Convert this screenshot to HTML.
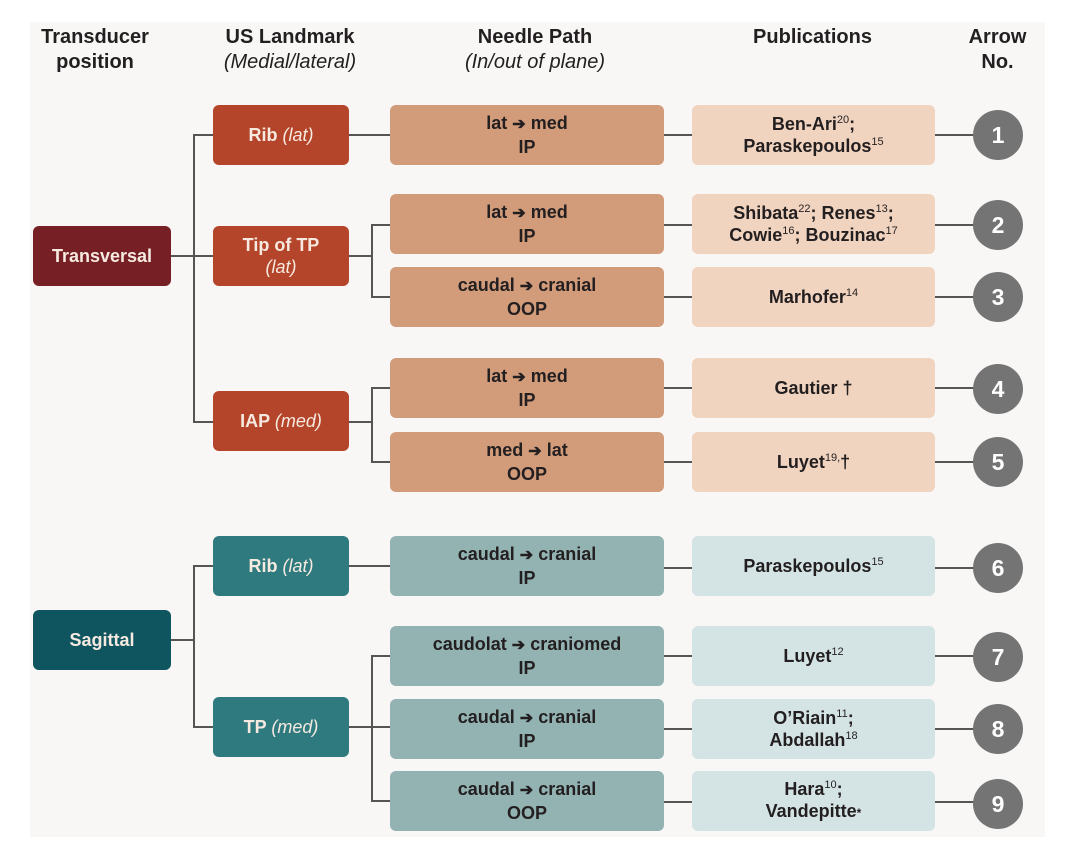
<!DOCTYPE html>
<html><head><meta charset="utf-8"><style>
body{margin:0;width:1080px;height:845px;background:#fff;position:relative;overflow:hidden;font-family:"Liberation Sans",sans-serif;}
.bg{position:absolute;left:30px;top:22px;width:1015px;height:815px;background:#f8f7f6;}
.h{position:absolute;text-align:center;font-weight:bold;font-size:20px;color:#231f20;line-height:25px;}
.h i{font-weight:normal;}
.b{position:absolute;display:flex;align-items:center;justify-content:center;text-align:center;border-radius:6px;font-size:18px;line-height:22px;color:#231f20;font-weight:bold;}
.b>div{width:100%;}
.w{color:#f6e9e0;}
.b i{font-weight:normal;}
sup{font-size:11px;vertical-align:7px;line-height:0;font-weight:normal;}
.c{position:absolute;width:50px;height:50px;border-radius:50%;background:#747474;color:#fff;font-weight:bold;font-size:23px;display:flex;align-items:center;justify-content:center;}
.l{position:absolute;background:#555;}
.ar{font-size:16px;}
</style></head><body>
<div class="bg"></div>
<div class="h" style="left:20px;top:25px;width:150px">Transducer<br>position</div>
<div class="h" style="left:200px;top:25px;width:180px">US Landmark<br><i>(Medial/lateral)</i></div>
<div class="h" style="left:420px;top:25px;width:230px">Needle Path<br><i>(In/out of plane)</i></div>
<div class="h" style="left:700px;top:25px;width:225px">Publications</div>
<div class="h" style="left:950px;top:25px;width:95px">Arrow<br>No.</div>

<div class="l" style="left:171px;top:255px;width:42px;height:2px"></div>
<div class="l" style="left:193px;top:134px;width:2px;height:289px"></div>
<div class="l" style="left:193px;top:134px;width:20px;height:2px"></div>
<div class="l" style="left:193px;top:421px;width:20px;height:2px"></div>
<div class="l" style="left:349px;top:134px;width:41px;height:2px"></div>
<div class="l" style="left:349px;top:255px;width:23px;height:2px"></div>
<div class="l" style="left:371px;top:224px;width:2px;height:74px"></div>
<div class="l" style="left:371px;top:224px;width:19px;height:2px"></div>
<div class="l" style="left:371px;top:296px;width:19px;height:2px"></div>
<div class="l" style="left:349px;top:421px;width:23px;height:2px"></div>
<div class="l" style="left:371px;top:387px;width:2px;height:76px"></div>
<div class="l" style="left:371px;top:387px;width:19px;height:2px"></div>
<div class="l" style="left:371px;top:461px;width:19px;height:2px"></div>

<div class="l" style="left:171px;top:639px;width:22px;height:2px"></div>
<div class="l" style="left:193px;top:565px;width:2px;height:163px"></div>
<div class="l" style="left:193px;top:565px;width:20px;height:2px"></div>
<div class="l" style="left:193px;top:726px;width:20px;height:2px"></div>
<div class="l" style="left:349px;top:565px;width:41px;height:2px"></div>
<div class="l" style="left:349px;top:726px;width:41px;height:2px"></div>
<div class="l" style="left:371px;top:655px;width:2px;height:147px"></div>
<div class="l" style="left:371px;top:655px;width:19px;height:2px"></div>
<div class="l" style="left:371px;top:800px;width:19px;height:2px"></div>

<div class="l" style="left:664px;top:134px;width:333px;height:2px"></div>
<div class="l" style="left:664px;top:224px;width:333px;height:2px"></div>
<div class="l" style="left:664px;top:296px;width:333px;height:2px"></div>
<div class="l" style="left:664px;top:387px;width:333px;height:2px"></div>
<div class="l" style="left:664px;top:461px;width:333px;height:2px"></div>
<div class="l" style="left:664px;top:567px;width:333px;height:2px"></div>
<div class="l" style="left:664px;top:655px;width:333px;height:2px"></div>
<div class="l" style="left:664px;top:728px;width:333px;height:2px"></div>
<div class="l" style="left:664px;top:801px;width:333px;height:2px"></div>

<div class="b w" style="left:33px;top:226px;width:138px;height:60px;background:#761f24"><div>Transversal</div></div>
<div class="b w" style="left:33px;top:610px;width:138px;height:60px;background:#0e5560"><div>Sagittal</div></div>

<div class="b w" style="left:213px;top:105px;width:136px;height:60px;background:#b4452a"><div>Rib <i>(lat)</i></div></div>
<div class="b w" style="left:213px;top:226px;width:136px;height:60px;background:#b4452a"><div>Tip of TP<br><i>(lat)</i></div></div>
<div class="b w" style="left:213px;top:391px;width:136px;height:60px;background:#b4452a"><div>IAP <i>(med)</i></div></div>
<div class="b w" style="left:213px;top:536px;width:136px;height:60px;background:#2e7a7e"><div>Rib <i>(lat)</i></div></div>
<div class="b w" style="left:213px;top:697px;width:136px;height:60px;background:#2e7a7e"><div>TP <i>(med)</i></div></div>

<div class="b" style="left:390px;top:105px;width:274px;height:60px;background:#d29c7b"><div>lat <span class="ar">➔</span> med<br>IP</div></div>
<div class="b" style="left:390px;top:194px;width:274px;height:60px;background:#d29c7b"><div>lat <span class="ar">➔</span> med<br>IP</div></div>
<div class="b" style="left:390px;top:267px;width:274px;height:60px;background:#d29c7b"><div>caudal <span class="ar">➔</span> cranial<br>OOP</div></div>
<div class="b" style="left:390px;top:358px;width:274px;height:60px;background:#d29c7b"><div>lat <span class="ar">➔</span> med<br>IP</div></div>
<div class="b" style="left:390px;top:432px;width:274px;height:60px;background:#d29c7b"><div>med <span class="ar">➔</span> lat<br>OOP</div></div>
<div class="b" style="left:390px;top:536px;width:274px;height:60px;background:#93b3b3"><div>caudal <span class="ar">➔</span> cranial<br>IP</div></div>
<div class="b" style="left:390px;top:626px;width:274px;height:60px;background:#93b3b3"><div>caudolat <span class="ar">➔</span> craniomed<br>IP</div></div>
<div class="b" style="left:390px;top:699px;width:274px;height:60px;background:#93b3b3"><div>caudal <span class="ar">➔</span> cranial<br>IP</div></div>
<div class="b" style="left:390px;top:771px;width:274px;height:60px;background:#93b3b3"><div>caudal <span class="ar">➔</span> cranial<br>OOP</div></div>

<div class="b" style="left:692px;top:105px;width:243px;height:60px;background:#f1d4bf"><div>Ben-Ari<sup>20</sup>;<br>Paraskepoulos<sup>15</sup></div></div>
<div class="b" style="left:692px;top:194px;width:243px;height:60px;background:#f1d4bf"><div>Shibata<sup>22</sup>; Renes<sup>13</sup>;<br>Cowie<sup>16</sup>; Bouzinac<sup>17</sup></div></div>
<div class="b" style="left:692px;top:267px;width:243px;height:60px;background:#f1d4bf"><div>Marhofer<sup>14</sup></div></div>
<div class="b" style="left:692px;top:358px;width:243px;height:60px;background:#f1d4bf"><div>Gautier †</div></div>
<div class="b" style="left:692px;top:432px;width:243px;height:60px;background:#f1d4bf"><div>Luyet<sup>19,</sup>†</div></div>
<div class="b" style="left:692px;top:536px;width:243px;height:60px;background:#d4e3e4"><div>Paraskepoulos<sup>15</sup></div></div>
<div class="b" style="left:692px;top:626px;width:243px;height:60px;background:#d4e3e4"><div>Luyet<sup>12</sup></div></div>
<div class="b" style="left:692px;top:699px;width:243px;height:60px;background:#d4e3e4"><div>O’Riain<sup>11</sup>;<br>Abdallah<sup>18</sup></div></div>
<div class="b" style="left:692px;top:771px;width:243px;height:60px;background:#d4e3e4"><div>Hara<sup>10</sup>;<br>Vandepitte<span style="font-size:12px">*</span></div></div>

<div class="c" style="left:973px;top:110px">1</div>
<div class="c" style="left:973px;top:200px">2</div>
<div class="c" style="left:973px;top:272px">3</div>
<div class="c" style="left:973px;top:364px">4</div>
<div class="c" style="left:973px;top:437px">5</div>
<div class="c" style="left:973px;top:543px">6</div>
<div class="c" style="left:973px;top:632px">7</div>
<div class="c" style="left:973px;top:704px">8</div>
<div class="c" style="left:973px;top:779px">9</div>
</body></html>
